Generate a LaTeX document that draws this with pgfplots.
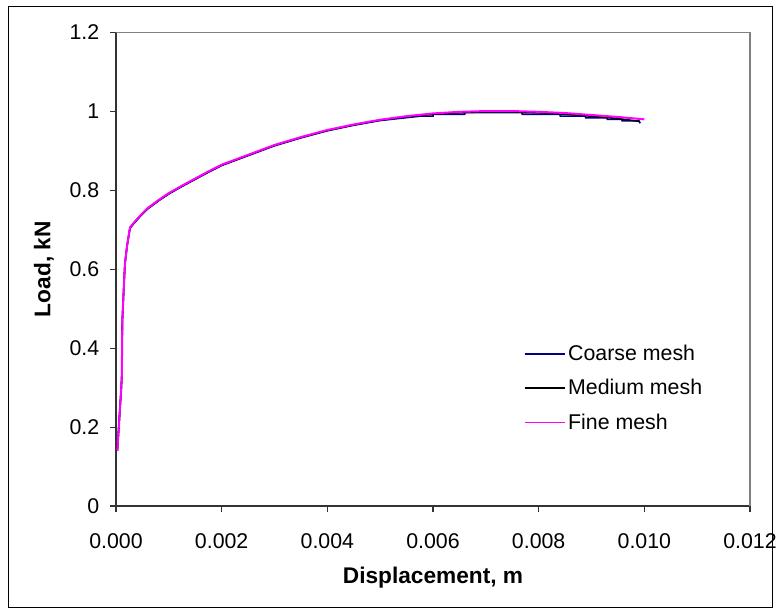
\documentclass[border=0pt]{standalone}
\usepackage{fontspec}
\setmainfont{Liberation Sans}
\usepackage{pgfplots}
\pgfplotsset{compat=1.18}
\definecolor{coarse}{HTML}{000080}
\definecolor{fine}{HTML}{FF00FF}
\begin{document}
\begin{tikzpicture}
\useasboundingbox (0pt,0pt) rectangle (585.75pt,-457.5pt);
\draw[black, line width=0.9pt] (6.375pt,-4.875pt) rectangle (579.375pt,-455.625pt);
\begin{axis}[
  at={(87pt,-379.5pt)}, anchor=south west,
  scale only axis, width=475.5pt, height=355.1pt,
  xmin=0, xmax=0.012, ymin=0, ymax=1.2,
  axis lines*=left,
  axis line style={line width=1.1pt, black!80},
  xtick={0,0.002,0.004,0.006,0.008,0.010,0.012},
  ytick={0,0.2,0.4,0.6,0.8,1,1.2},
  scaled x ticks=false,
  xticklabel style={/pgf/number format/fixed,/pgf/number format/fixed zerofill,/pgf/number format/precision=3, yshift=-12.5pt},
  yticklabel style={/pgf/number format/fixed, xshift=-4.5pt},
  /pgf/number format/assume math mode=true,
  tick align=outside, tickwidth=4.5pt,
  major tick style={line width=0.8pt, black!80},
  ticklabel style={font=\fontsize{16}{19}\selectfont},
  xlabel={Displacement, m}, ylabel={Load, kN},
  every axis x label/.style={at={(rel axis cs:0.5,-0.152)}, anchor=center, font=\bfseries\fontsize{17}{20}\selectfont},
  every axis y label/.style={at={(rel axis cs:-0.1136,0.5)}, rotate=90, anchor=center, font=\bfseries\fontsize{17}{20}\selectfont},
  legend style={draw=none, fill=none, at={(rel axis cs:0.643,0.346)}, anchor=north west,
    font=\fontsize{16}{19}\selectfont, row sep=8.6pt, inner sep=0pt},
  legend cell align=left,
  legend image code/.code={\draw[#1, line width=1.2pt] (0pt,0pt) -- (30pt,0pt);},
  clip=false,
]
\draw[black!50, line width=1.1pt] (rel axis cs:0,1) -- (rel axis cs:1,1) -- (rel axis cs:1,0);
\addplot[coarse, line width=1.2pt] coordinates {
(0.000025,0.140) (0.00010,0.300) (0.00011,0.330) (0.00012,0.470) (0.00015,0.560)
(0.00017,0.615) (0.00021,0.660) (0.000265,0.704) (0.00035,0.718) (0.00045,0.733)
(0.00060,0.753) (0.00080,0.773) (0.00100,0.791) (0.00125,0.810) (0.00150,0.828)
(0.00175,0.846) (0.00200,0.863) (0.00250,0.888) (0.00300,0.913) (0.00350,0.933)
(0.00400,0.951) (0.00450,0.965) (0.00500,0.977) (0.005754,0.988) (0.0060,0.988)
(0.006006,0.993) (0.0066,0.993) (0.00661,0.997) (0.00768,0.997) (0.00769,0.993)
(0.0084,0.993) (0.00841,0.988) (0.00888,0.988) (0.00889,0.984) (0.00929,0.984)
(0.0093,0.980) (0.00957,0.980) (0.00958,0.976) (0.0099,0.976) (0.00992,0.970)
};
\addlegendentry{Coarse mesh}
\addplot[black, line width=1.2pt] coordinates {
(0.000025,0.140) (0.00010,0.300) (0.00011,0.330) (0.00012,0.470) (0.00015,0.560)
(0.00017,0.615) (0.00021,0.660) (0.000265,0.705) (0.00035,0.719) (0.00045,0.734)
(0.00060,0.754) (0.00080,0.774) (0.00100,0.792) (0.00125,0.811) (0.00150,0.829)
(0.00175,0.847) (0.00200,0.864) (0.00250,0.889) (0.00300,0.914) (0.00350,0.934)
(0.00400,0.952) (0.00450,0.966) (0.00500,0.978) (0.00550,0.987) (0.00600,0.993)
(0.00650,0.997) (0.00700,0.999) (0.00750,0.999) (0.00800,0.997) (0.00850,0.993)
(0.00900,0.988) (0.00950,0.982) (0.00990,0.975)
};
\addlegendentry{Medium mesh}
\addplot[fine, line width=1.5pt] coordinates {
(0.000025,0.140) (0.00010,0.300) (0.00011,0.330) (0.00012,0.470) (0.00015,0.560)
(0.00017,0.615) (0.00021,0.660) (0.000265,0.706) (0.00035,0.720) (0.00045,0.735)
(0.00060,0.755) (0.00080,0.775) (0.00100,0.793) (0.00125,0.812) (0.00150,0.830)
(0.00175,0.848) (0.00200,0.865) (0.00250,0.890) (0.00300,0.915) (0.00350,0.935)
(0.00400,0.953) (0.00450,0.967) (0.00500,0.979) (0.00550,0.988) (0.00600,0.995)
(0.00650,0.999) (0.00700,1.001) (0.00750,1.001) (0.00800,0.999) (0.00850,0.996)
(0.00900,0.991) (0.00950,0.986) (0.01000,0.980)
};
\addlegendentry{Fine mesh}
\end{axis}
\end{tikzpicture}
\end{document}
